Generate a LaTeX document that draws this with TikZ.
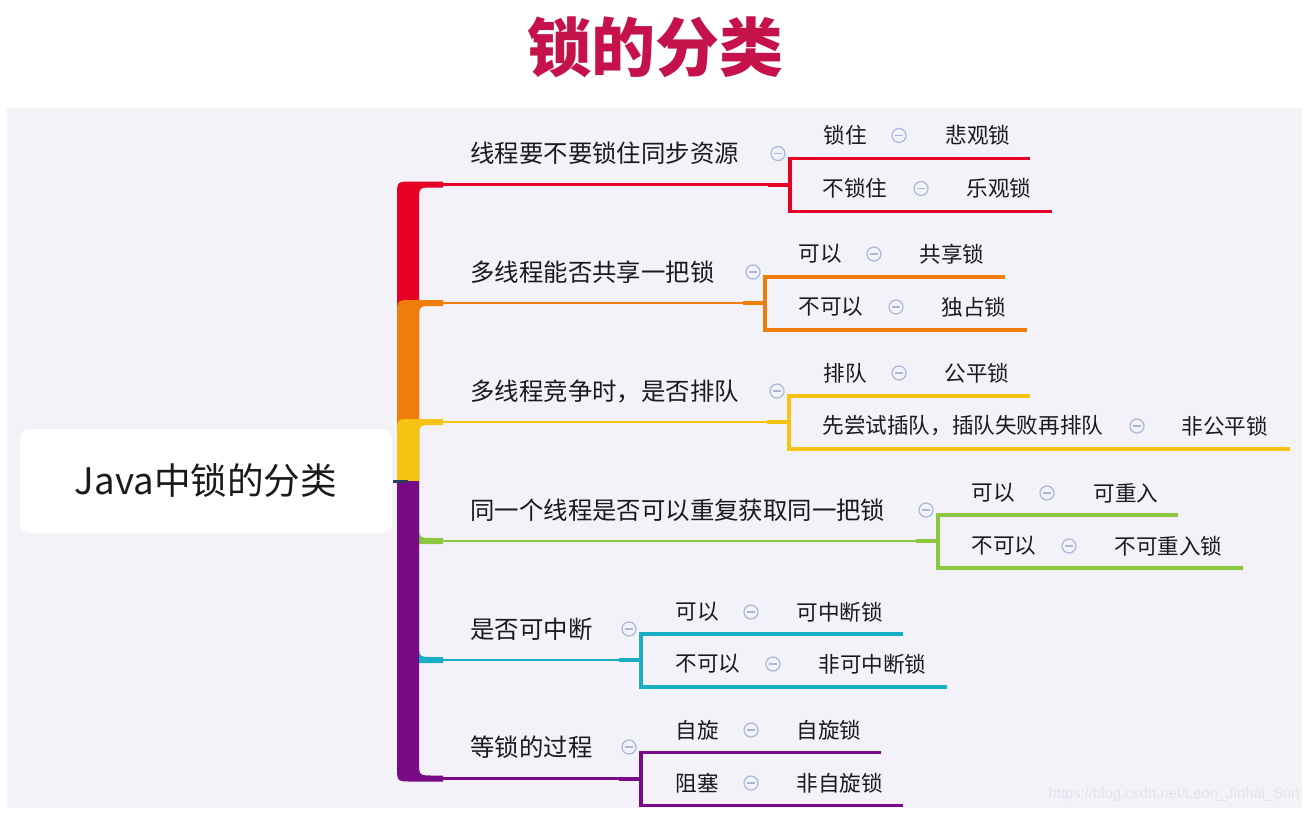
\documentclass[tikz,border=0pt]{standalone}
\usepackage{fontspec}
\setmainfont{Noto Sans CJK SC}
\newfontfamily\wmfont{Liberation Sans}
\definecolor{cred}{HTML}{E60026}
\definecolor{corange}{HTML}{EF7D0B}
\definecolor{cyellow}{HTML}{F5C313}
\definecolor{cgreen}{HTML}{8DC63F}
\definecolor{ccyan}{HTML}{18AFC5}
\definecolor{cpurple}{HTML}{780A86}
\definecolor{ctitle}{HTML}{C5124A}
\definecolor{cpanel}{HTML}{F3F2F9}
\definecolor{cicon}{HTML}{A9B6DC}
\definecolor{ctext}{HTML}{1A1A1A}
\definecolor{cnavy}{HTML}{2F3D5C}
\definecolor{cwm}{HTML}{E2E2EA}
\newcommand\trunkup[2]{%
  \fill[#1] (397,481) -- (397,#2+12) .. controls (397,#2-3) .. (412,#2-3) -- (443,#2-3) -- (443,#2+3)
    -- (433,#2+3) .. controls (419,#2+3) .. (419,#2+17) -- (419,481) -- cycle;}
\newcommand\trunkdown[2]{%
  \fill[#1] (397,481) -- (397,#2-12) .. controls (397,#2+3) .. (412,#2+3) -- (443,#2+3) -- (443,#2-3)
    -- (433,#2-3) .. controls (419,#2-3) .. (419,#2-17) -- (419,481) -- cycle;}
\newcommand\bline[5]{% color, L, bx, topend, botend
  \draw[#1,line width=1.25pt] (443,#2) -- (#3-22,#2);
  \draw[#1,line width=2pt] (#3-22,#2) -- (#3,#2);
  \draw[#1,line width=1.75pt] (#4,#2-26) -- (#3,#2-26) -- (#3,#2+27) -- (#5,#2+27);}
\newcommand\kid[7]{% name, x, y, text, iconx, resx, res
  \node[kidtxt] (#1a) at (#2,#3) {#4};
  \node[icon] (#1i) at (#5,#3) {};
  \node[kidtxt] (#1r) at (#6,#3) {#7};}
\begin{document}
\begin{tikzpicture}[x=0.5pt,y=-0.5pt,
  brtxt/.style={anchor=west,inner sep=0,text=ctext,font=\fontsize{12.2pt}{14pt}\selectfont},
  kidtxt/.style={anchor=west,inner sep=0,text=ctext,font=\fontsize{10.8pt}{13pt}\selectfont},
  icon/.style={circle,draw=cicon,line width=0.6pt,minimum size=7pt,inner sep=0,
    path picture={\draw[cicon,line width=0.6pt] ([xshift=-1.8pt]path picture bounding box.center) -- ([xshift=1.8pt]path picture bounding box.center);}},
  root/.style={fill=white,rounded corners=5pt,minimum width=186pt,minimum height=52pt,inner sep=0,
    text=ctext,font=\fontsize{18.3pt}{21pt}\selectfont}]
\useasboundingbox (0,0) rectangle (1309,813);
\fill[white] (0,0) rectangle (1309,813);
\fill[cpanel] (7,108) rectangle (1302,808);
\node[text=ctitle,inner sep=0,font=\fontsize{32pt}{36pt}\selectfont\bfseries] (title) at (655,47) {锁的分类};
\node[root] (root) at (206,481) {Java中锁的分类};
% trunk
\trunkup{cred}{184.5}
\trunkup{corange}{303}
\trunkup{cyellow}{422}
\trunkdown{cgreen}{541}
\trunkdown{ccyan}{660}
\trunkdown{cpurple}{778.5}
\draw[cnavy,line width=1.5pt] (393,481.5) -- (408,481.5);
% branch 1
\bline{cred}{184.5}{790}{1030}{1052}
\node[brtxt] (b1) at (470,153.5) {线程要不要锁住同步资源};
\node[icon] (b1i) at (778,153.5) {};
\kid{k11}{823}{135.5}{锁住}{899}{945}{悲观锁}
\kid{k12}{822}{188.5}{不锁住}{921}{966}{乐观锁}
% branch 2
\bline{corange}{303}{765}{1005}{1027}
\node[brtxt] (b2) at (470,272) {多线程能否共享一把锁};
\node[icon] (b2i) at (753,272) {};
\kid{k21}{798}{254}{可以}{874}{919}{共享锁}
\kid{k22}{798}{307}{不可以}{896}{941}{独占锁}
% branch 3
\bline{cyellow}{422}{789}{1030}{1290}
\node[brtxt] (b3) at (470,391) {多线程竞争时，是否排队};
\node[icon] (b3i) at (777,391) {};
\kid{k31}{823}{373}{排队}{899}{944}{公平锁}
\kid{k32}{822}{426}{先尝试插队，插队失败再排队}{1137}{1181}{非公平锁}
% branch 4
\bline{cgreen}{541}{938}{1178}{1243}
\node[brtxt] (b4) at (470,510) {同一个线程是否可以重复获取同一把锁};
\node[icon] (b4i) at (926,510) {};
\kid{k41}{971}{493}{可以}{1047}{1093}{可重入}
\kid{k42}{971}{546}{不可以}{1069}{1114}{不可重入锁}
% branch 5
\bline{ccyan}{660}{641}{903}{947}
\node[brtxt] (b5) at (470,629) {是否可中断};
\node[icon] (b5i) at (629,629) {};
\kid{k51}{675}{612}{可以}{751}{796}{可中断锁}
\kid{k52}{675}{664}{不可以}{773}{818}{非可中断锁}
% branch 6
\bline{cpurple}{778.5}{641}{881}{903}
\node[brtxt] (b6) at (470,747) {等锁的过程};
\node[icon] (b6i) at (629,747) {};
\kid{k61}{675}{730}{自旋}{751}{796}{自旋锁}
\kid{k62}{675}{783}{阻塞}{751}{796}{非自旋锁}
% watermark
\node[anchor=east,inner sep=0,text=cwm,font=\wmfont\fontsize{7.4pt}{9pt}\selectfont] (wm) at (1300,795) {https://blog.csdn.net/Leon\_Jinhai\_Sun};
\end{tikzpicture}
\end{document}
